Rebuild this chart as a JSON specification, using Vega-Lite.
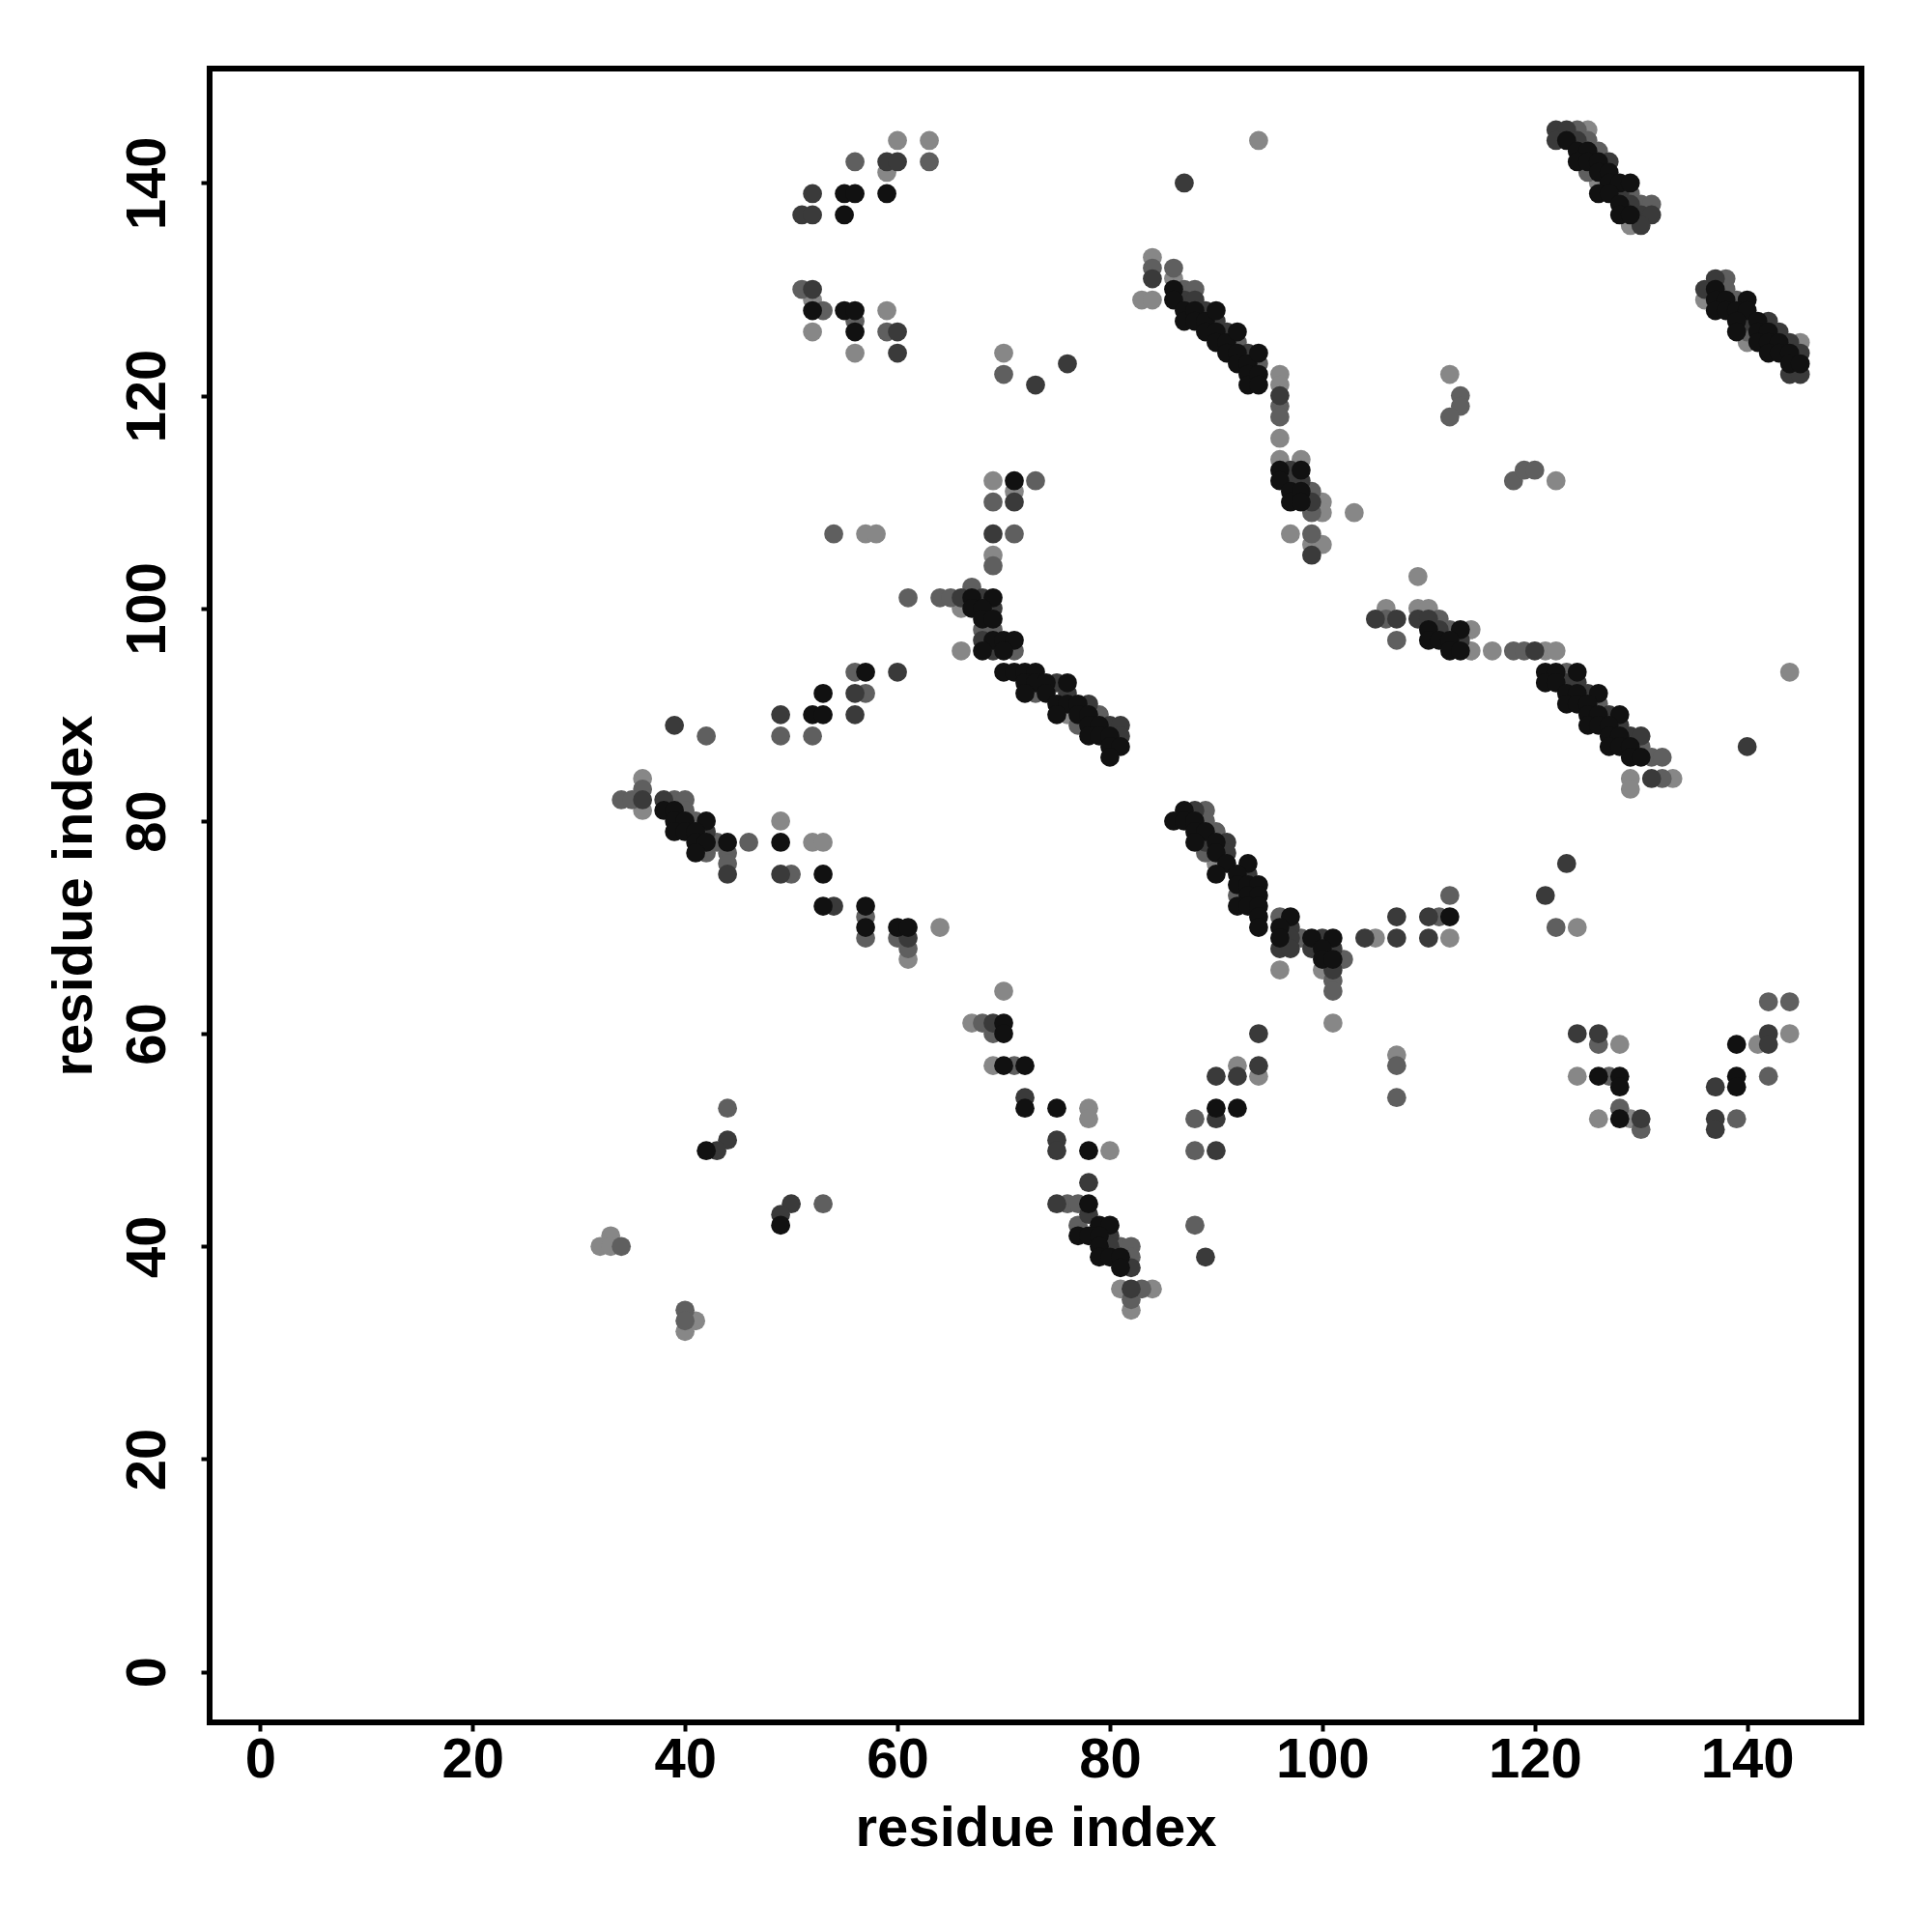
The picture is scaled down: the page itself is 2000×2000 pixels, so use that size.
{
"$schema": "https://vega.github.io/schema/vega-lite/v6.json",
"width": 1710, "height": 1712,
"autosize": "none",
"padding": {"left": 217, "top": 71, "right": 73, "bottom": 217},
"background": "white",
"config": {"view": {"stroke": "black", "strokeWidth": 6}},
"data": {"values": [
{"i":60,"j":144,"p":1},{"i":63,"j":144,"p":1},{"i":56,"j":142,"p":2},{"i":59,"j":142,"p":3},{"i":60,"j":142,"p":3},{"i":59,"j":141,"p":1},{"i":63,"j":142,"p":2},{"i":52,"j":139,"p":3},{"i":55,"j":139,"p":4},{"i":56,"j":139,"p":4},{"i":59,"j":139,"p":4},{"i":51,"j":137,"p":3},{"i":52,"j":137,"p":3},{"i":55,"j":137,"p":4},{"i":51,"j":130,"p":2},{"i":52,"j":130,"p":3},{"i":52,"j":129,"p":1},{"i":52,"j":128,"p":4},{"i":53,"j":128,"p":2},{"i":55,"j":128,"p":4},{"i":56,"j":128,"p":4},{"i":56,"j":127,"p":2},{"i":56,"j":126,"p":4},{"i":59,"j":128,"p":1},{"i":52,"j":126,"p":1},{"i":59,"j":126,"p":2},{"i":60,"j":126,"p":3},{"i":56,"j":124,"p":1},{"i":60,"j":124,"p":3},
{"i":94,"j":144,"p":1},{"i":87,"j":140,"p":3},{"i":84,"j":133,"p":1},{"i":84,"j":132,"p":2},{"i":84,"j":131,"p":3},{"i":83,"j":129,"p":1},{"i":84,"j":129,"p":1},{"i":86,"j":132,"p":2},{"i":86,"j":131,"p":1},
{"i":86,"j":130,"p":4},{"i":86,"j":129,"p":4},{"i":87,"j":130,"p":2},{"i":87,"j":129,"p":3},{"i":87,"j":128,"p":4},{"i":87,"j":127,"p":4},{"i":88,"j":130,"p":2},{"i":88,"j":129,"p":3},{"i":88,"j":128,"p":4},{"i":88,"j":127,"p":4},{"i":89,"j":128,"p":3},{"i":89,"j":127,"p":4},{"i":89,"j":126,"p":4},{"i":90,"j":128,"p":4},{"i":90,"j":127,"p":3},{"i":90,"j":126,"p":4},{"i":90,"j":125,"p":4},{"i":91,"j":126,"p":3},{"i":91,"j":125,"p":4},{"i":91,"j":124,"p":4},{"i":92,"j":126,"p":4},{"i":92,"j":125,"p":2},{"i":92,"j":124,"p":4},{"i":92,"j":123,"p":4},{"i":93,"j":124,"p":3},{"i":93,"j":123,"p":4},{"i":93,"j":122,"p":4},{"i":93,"j":121,"p":4},{"i":94,"j":124,"p":4},{"i":94,"j":123,"p":2},{"i":94,"j":122,"p":4},{"i":94,"j":121,"p":4},
{"i":96,"j":122,"p":1},{"i":96,"j":121,"p":1},{"i":96,"j":120,"p":3},{"i":96,"j":119,"p":2},{"i":96,"j":118,"p":2},{"i":96,"j":116,"p":1},{"i":96,"j":114,"p":1},{"i":96,"j":113,"p":4},{"i":96,"j":112,"p":4},{"i":97,"j":113,"p":3},{"i":97,"j":112,"p":3},{"i":97,"j":111,"p":4},{"i":97,"j":110,"p":4},{"i":98,"j":114,"p":1},{"i":98,"j":113,"p":4},{"i":98,"j":112,"p":3},{"i":98,"j":111,"p":4},{"i":98,"j":110,"p":4},{"i":99,"j":111,"p":2},{"i":99,"j":110,"p":3},{"i":99,"j":109,"p":2},{"i":100,"j":110,"p":1},{"i":100,"j":109,"p":1},{"i":103,"j":109,"p":1},
{"i":70,"j":124,"p":1},{"i":70,"j":122,"p":2},{"i":73,"j":121,"p":3},{"i":76,"j":123,"p":3},
{"i":69,"j":112,"p":1},{"i":71,"j":112,"p":4},{"i":73,"j":112,"p":2},{"i":71,"j":111,"p":1},{"i":69,"j":110,"p":2},{"i":71,"j":110,"p":3},{"i":69,"j":107,"p":3},{"i":71,"j":107,"p":2},{"i":69,"j":105,"p":1},{"i":69,"j":104,"p":2},{"i":67,"j":102,"p":2},{"i":64,"j":101,"p":2},{"i":65,"j":101,"p":2},{"i":66,"j":101,"p":3},{"i":67,"j":101,"p":4},{"i":68,"j":101,"p":3},{"i":69,"j":101,"p":4},{"i":66,"j":100,"p":1},{"i":67,"j":100,"p":4},{"i":68,"j":100,"p":4},{"i":69,"j":100,"p":3},{"i":68,"j":99,"p":4},{"i":69,"j":99,"p":4},{"i":68,"j":98,"p":2},{"i":69,"j":98,"p":2},{"i":68,"j":97,"p":3},{"i":69,"j":97,"p":4},{"i":70,"j":97,"p":4},{"i":71,"j":97,"p":4},{"i":66,"j":96,"p":1},{"i":68,"j":96,"p":4},{"i":69,"j":96,"p":3},{"i":70,"j":96,"p":4},{"i":71,"j":96,"p":2},{"i":61,"j":101,"p":2},
{"i":122,"j":145,"p":3},{"i":123,"j":145,"p":3},{"i":124,"j":145,"p":2},{"i":125,"j":145,"p":1},{"i":122,"j":144,"p":3},{"i":123,"j":144,"p":4},{"i":124,"j":144,"p":3},{"i":125,"j":144,"p":2},{"i":124,"j":143,"p":4},{"i":125,"j":143,"p":4},{"i":126,"j":143,"p":2},{"i":124,"j":142,"p":4},{"i":125,"j":142,"p":4},{"i":126,"j":142,"p":4},{"i":127,"j":142,"p":3},{"i":125,"j":141,"p":2},{"i":126,"j":141,"p":4},{"i":127,"j":141,"p":4},{"i":126,"j":140,"p":1},{"i":127,"j":140,"p":4},{"i":128,"j":140,"p":4},{"i":129,"j":140,"p":4},{"i":126,"j":139,"p":4},{"i":127,"j":139,"p":4},{"i":128,"j":139,"p":3},{"i":129,"j":139,"p":2},{"i":128,"j":138,"p":4},{"i":129,"j":138,"p":3},{"i":130,"j":138,"p":2},{"i":131,"j":138,"p":2},{"i":128,"j":137,"p":4},{"i":129,"j":137,"p":4},{"i":130,"j":137,"p":3},{"i":131,"j":137,"p":3},{"i":129,"j":136,"p":1},{"i":130,"j":136,"p":3},
{"i":137,"j":131,"p":3},{"i":138,"j":131,"p":2},{"i":136,"j":130,"p":3},{"i":137,"j":130,"p":4},{"i":138,"j":130,"p":2},{"i":136,"j":129,"p":1},{"i":137,"j":129,"p":4},{"i":138,"j":129,"p":4},{"i":139,"j":129,"p":2},{"i":140,"j":129,"p":4},{"i":137,"j":128,"p":4},{"i":138,"j":128,"p":4},{"i":139,"j":128,"p":4},{"i":140,"j":128,"p":4},{"i":139,"j":127,"p":4},{"i":140,"j":127,"p":3},{"i":141,"j":127,"p":4},{"i":142,"j":127,"p":3},{"i":139,"j":126,"p":4},{"i":140,"j":126,"p":2},{"i":141,"j":126,"p":4},{"i":142,"j":126,"p":4},{"i":143,"j":126,"p":3},{"i":140,"j":125,"p":1},{"i":141,"j":125,"p":4},{"i":142,"j":125,"p":4},{"i":143,"j":125,"p":4},{"i":144,"j":125,"p":3},{"i":145,"j":125,"p":1},{"i":142,"j":124,"p":4},{"i":143,"j":124,"p":4},{"i":144,"j":124,"p":4},{"i":145,"j":124,"p":3},{"i":144,"j":123,"p":4},{"i":145,"j":123,"p":4},{"i":144,"j":122,"p":3},{"i":145,"j":122,"p":3},
{"i":112,"j":122,"p":1},{"i":113,"j":120,"p":2},{"i":113,"j":119,"p":2},{"i":112,"j":118,"p":2},{"i":118,"j":112,"p":2},{"i":119,"j":113,"p":2},{"i":120,"j":113,"p":2},{"i":122,"j":112,"p":1},
{"i":54,"j":107,"p":2},{"i":57,"j":107,"p":1},{"i":58,"j":107,"p":1},{"i":56,"j":94,"p":2},{"i":57,"j":94,"p":4},{"i":60,"j":94,"p":3},{"i":53,"j":92,"p":4},{"i":56,"j":92,"p":3},{"i":57,"j":92,"p":2},{"i":49,"j":90,"p":3},{"i":52,"j":90,"p":4},{"i":53,"j":90,"p":4},{"i":56,"j":90,"p":3},{"i":39,"j":89,"p":3},{"i":42,"j":88,"p":2},{"i":49,"j":88,"p":2},{"i":52,"j":88,"p":2},
{"i":36,"j":84,"p":1},{"i":36,"j":83,"p":2},{"i":34,"j":82,"p":2},{"i":35,"j":82,"p":2},{"i":36,"j":82,"p":3},{"i":38,"j":82,"p":3},{"i":39,"j":82,"p":2},{"i":40,"j":82,"p":2},{"i":36,"j":81,"p":1},{"i":38,"j":81,"p":4},{"i":39,"j":81,"p":4},{"i":40,"j":81,"p":2},{"i":39,"j":80,"p":4},{"i":40,"j":80,"p":4},{"i":41,"j":80,"p":2},{"i":42,"j":80,"p":4},{"i":49,"j":80,"p":1},{"i":39,"j":79,"p":4},{"i":40,"j":79,"p":4},{"i":41,"j":79,"p":4},{"i":42,"j":79,"p":3},{"i":41,"j":78,"p":4},{"i":42,"j":78,"p":4},{"i":43,"j":78,"p":2},{"i":44,"j":78,"p":4},{"i":46,"j":78,"p":2},{"i":49,"j":78,"p":4},{"i":52,"j":78,"p":1},{"i":53,"j":78,"p":1},{"i":41,"j":77,"p":4},{"i":42,"j":77,"p":2},{"i":44,"j":77,"p":2},{"i":44,"j":76,"p":2},{"i":44,"j":75,"p":3},{"i":49,"j":75,"p":3},{"i":50,"j":75,"p":2},{"i":53,"j":75,"p":4},{"i":53,"j":72,"p":4},{"i":54,"j":72,"p":3},{"i":57,"j":72,"p":4},{"i":57,"j":71,"p":2},{"i":57,"j":70,"p":4},{"i":60,"j":70,"p":4},{"i":61,"j":70,"p":4},{"i":64,"j":70,"p":1},
{"i":57,"j":69,"p":2},{"i":60,"j":69,"p":2},{"i":61,"j":69,"p":3},{"i":61,"j":68,"p":2},{"i":61,"j":67,"p":1},{"i":67,"j":61,"p":1},{"i":68,"j":61,"p":2},{"i":44,"j":53,"p":2},{"i":44,"j":50,"p":3},{"i":42,"j":49,"p":4},{"i":43,"j":49,"p":3},{"i":50,"j":44,"p":3},{"i":49,"j":43,"p":3},{"i":49,"j":42,"p":4},{"i":53,"j":44,"p":2},{"i":32,"j":40,"p":1},{"i":33,"j":41,"p":1},{"i":33,"j":40,"p":1},{"i":34,"j":40,"p":2},{"i":40,"j":34,"p":2},{"i":40,"j":33,"p":2},{"i":40,"j":32,"p":1},{"i":41,"j":33,"p":1},
{"i":70,"j":94,"p":4},{"i":71,"j":94,"p":4},{"i":72,"j":94,"p":4},{"i":73,"j":94,"p":4},{"i":72,"j":93,"p":4},{"i":73,"j":93,"p":4},{"i":74,"j":93,"p":4},{"i":75,"j":93,"p":3},{"i":76,"j":93,"p":4},{"i":72,"j":92,"p":4},{"i":73,"j":92,"p":2},{"i":74,"j":92,"p":4},{"i":76,"j":92,"p":3},{"i":75,"j":91,"p":4},{"i":76,"j":91,"p":4},{"i":77,"j":91,"p":4},{"i":78,"j":91,"p":3},{"i":75,"j":90,"p":4},{"i":76,"j":90,"p":1},{"i":77,"j":90,"p":4},{"i":78,"j":90,"p":4},{"i":79,"j":90,"p":2},{"i":77,"j":89,"p":2},{"i":78,"j":89,"p":4},{"i":79,"j":89,"p":4},{"i":80,"j":89,"p":3},{"i":81,"j":89,"p":3},{"i":78,"j":88,"p":4},{"i":79,"j":88,"p":4},{"i":80,"j":88,"p":4},{"i":81,"j":88,"p":3},{"i":80,"j":87,"p":4},{"i":81,"j":87,"p":4},{"i":80,"j":86,"p":4},
{"i":97,"j":107,"p":1},{"i":99,"j":107,"p":2},{"i":99,"j":106,"p":1},{"i":100,"j":106,"p":1},{"i":99,"j":105,"p":3},{"i":105,"j":99,"p":3},
{"i":109,"j":103,"p":1},{"i":106,"j":100,"p":1},{"i":109,"j":100,"p":1},{"i":110,"j":100,"p":1},{"i":106,"j":99,"p":2},{"i":107,"j":99,"p":3},{"i":109,"j":99,"p":3},{"i":110,"j":99,"p":3},{"i":111,"j":99,"p":2},{"i":110,"j":98,"p":4},{"i":111,"j":98,"p":3},{"i":112,"j":98,"p":2},{"i":113,"j":98,"p":4},{"i":114,"j":98,"p":1},{"i":107,"j":97,"p":2},{"i":110,"j":97,"p":4},{"i":111,"j":97,"p":4},{"i":112,"j":97,"p":4},{"i":113,"j":97,"p":3},{"i":112,"j":96,"p":4},{"i":113,"j":96,"p":4},{"i":114,"j":96,"p":1},{"i":116,"j":96,"p":1},{"i":118,"j":96,"p":2},{"i":119,"j":96,"p":2},{"i":120,"j":96,"p":3},{"i":121,"j":96,"p":1},{"i":122,"j":96,"p":1},
{"i":121,"j":94,"p":4},{"i":122,"j":94,"p":4},{"i":123,"j":94,"p":2},{"i":124,"j":94,"p":4},{"i":121,"j":93,"p":4},{"i":122,"j":93,"p":4},{"i":123,"j":93,"p":3},{"i":124,"j":93,"p":3},{"i":123,"j":92,"p":4},{"i":124,"j":92,"p":4},{"i":125,"j":92,"p":3},{"i":126,"j":92,"p":4},{"i":123,"j":91,"p":4},{"i":124,"j":91,"p":4},{"i":125,"j":91,"p":4},{"i":126,"j":91,"p":2},{"i":125,"j":90,"p":4},{"i":126,"j":90,"p":4},{"i":127,"j":90,"p":3},{"i":128,"j":90,"p":4},{"i":125,"j":89,"p":4},{"i":126,"j":89,"p":4},{"i":127,"j":89,"p":4},{"i":128,"j":89,"p":3},{"i":127,"j":88,"p":4},{"i":128,"j":88,"p":4},{"i":129,"j":88,"p":3},{"i":130,"j":88,"p":3},{"i":127,"j":87,"p":4},{"i":128,"j":87,"p":4},{"i":129,"j":87,"p":4},{"i":130,"j":87,"p":2},{"i":129,"j":86,"p":4},{"i":130,"j":86,"p":4},{"i":131,"j":86,"p":2},{"i":132,"j":86,"p":2},{"i":129,"j":84,"p":1},{"i":131,"j":84,"p":3},{"i":132,"j":84,"p":2},{"i":133,"j":84,"p":1},{"i":129,"j":83,"p":1},
{"i":144,"j":94,"p":1},{"i":140,"j":87,"p":3},{"i":123,"j":76,"p":3},{"i":121,"j":73,"p":3},{"i":112,"j":73,"p":2},{"i":107,"j":71,"p":3},{"i":110,"j":71,"p":3},{"i":111,"j":71,"p":2},{"i":112,"j":71,"p":4},{"i":122,"j":70,"p":2},{"i":124,"j":70,"p":1},{"i":107,"j":69,"p":3},{"i":110,"j":69,"p":3},{"i":112,"j":69,"p":1},
{"i":87,"j":81,"p":4},{"i":88,"j":81,"p":3},{"i":89,"j":81,"p":2},{"i":86,"j":80,"p":4},{"i":87,"j":80,"p":4},{"i":88,"j":80,"p":4},{"i":89,"j":80,"p":2},{"i":88,"j":79,"p":4},{"i":89,"j":79,"p":4},{"i":90,"j":79,"p":2},{"i":88,"j":78,"p":4},{"i":89,"j":78,"p":3},{"i":90,"j":78,"p":4},{"i":91,"j":78,"p":3},{"i":89,"j":77,"p":2},{"i":90,"j":77,"p":4},{"i":91,"j":77,"p":3},{"i":90,"j":76,"p":1},{"i":91,"j":76,"p":4},{"i":93,"j":76,"p":4},{"i":90,"j":75,"p":4},{"i":92,"j":75,"p":4},{"i":93,"j":75,"p":3},{"i":92,"j":74,"p":4},{"i":93,"j":74,"p":4},{"i":94,"j":74,"p":4},{"i":92,"j":73,"p":2},{"i":93,"j":73,"p":4},{"i":94,"j":73,"p":4},{"i":92,"j":72,"p":4},{"i":93,"j":72,"p":4},{"i":94,"j":72,"p":4},{"i":94,"j":71,"p":4},{"i":96,"j":71,"p":2},{"i":97,"j":71,"p":4},{"i":94,"j":70,"p":4},{"i":96,"j":70,"p":4},{"i":97,"j":70,"p":3},
{"i":96,"j":69,"p":4},{"i":97,"j":69,"p":3},{"i":98,"j":69,"p":2},{"i":99,"j":69,"p":4},{"i":100,"j":69,"p":3},{"i":101,"j":69,"p":4},{"i":104,"j":69,"p":3},{"i":105,"j":69,"p":1},{"i":96,"j":68,"p":3},{"i":97,"j":68,"p":3},{"i":99,"j":68,"p":3},{"i":100,"j":68,"p":4},{"i":101,"j":68,"p":3},{"i":100,"j":67,"p":4},{"i":101,"j":67,"p":4},{"i":102,"j":67,"p":2},{"i":96,"j":66,"p":1},{"i":100,"j":66,"p":1},{"i":101,"j":66,"p":3},{"i":101,"j":65,"p":2},{"i":101,"j":64,"p":2},{"i":70,"j":64,"p":1},{"i":101,"j":61,"p":1},{"i":69,"j":61,"p":3},{"i":70,"j":61,"p":4},{"i":69,"j":60,"p":2},{"i":70,"j":60,"p":4},{"i":94,"j":60,"p":3},{"i":69,"j":57,"p":1},{"i":70,"j":57,"p":4},{"i":71,"j":57,"p":2},{"i":72,"j":57,"p":4},{"i":94,"j":57,"p":3},{"i":92,"j":57,"p":1},{"i":90,"j":56,"p":3},{"i":92,"j":56,"p":3},{"i":94,"j":56,"p":1},{"i":72,"j":54,"p":3},{"i":72,"j":53,"p":4},{"i":75,"j":53,"p":4},{"i":78,"j":53,"p":1},{"i":90,"j":53,"p":4},{"i":92,"j":53,"p":4},{"i":78,"j":52,"p":1},{"i":88,"j":52,"p":2},{"i":90,"j":52,"p":3},{"i":75,"j":50,"p":3},{"i":75,"j":49,"p":3},{"i":78,"j":49,"p":4},{"i":80,"j":49,"p":1},{"i":88,"j":49,"p":2},{"i":90,"j":49,"p":3},{"i":78,"j":46,"p":3},{"i":75,"j":44,"p":3},{"i":76,"j":44,"p":2},{"i":77,"j":44,"p":2},{"i":78,"j":44,"p":4},{"i":78,"j":43,"p":3},{"i":77,"j":42,"p":2},{"i":79,"j":42,"p":4},{"i":80,"j":42,"p":4},{"i":88,"j":42,"p":2},{"i":77,"j":41,"p":4},{"i":78,"j":41,"p":4},{"i":79,"j":41,"p":4},{"i":80,"j":41,"p":3},{"i":79,"j":40,"p":4},{"i":80,"j":40,"p":3},{"i":81,"j":40,"p":2},{"i":82,"j":40,"p":2},{"i":79,"j":39,"p":4},{"i":80,"j":39,"p":4},{"i":81,"j":39,"p":4},{"i":82,"j":39,"p":2},{"i":89,"j":39,"p":3},{"i":81,"j":38,"p":4},{"i":82,"j":38,"p":3},{"i":81,"j":36,"p":1},{"i":82,"j":36,"p":3},{"i":83,"j":36,"p":2},{"i":84,"j":36,"p":1},{"i":82,"j":35,"p":2},{"i":82,"j":34,"p":1},
{"i":107,"j":58,"p":1},{"i":107,"j":57,"p":2},{"i":107,"j":54,"p":2},{"i":124,"j":60,"p":3},{"i":126,"j":60,"p":3},{"i":126,"j":59,"p":2},{"i":128,"j":59,"p":1},{"i":124,"j":56,"p":1},{"i":126,"j":56,"p":4},{"i":127,"j":56,"p":2},{"i":128,"j":56,"p":4},{"i":128,"j":55,"p":4},{"i":128,"j":53,"p":2},{"i":126,"j":52,"p":1},{"i":128,"j":52,"p":4},{"i":129,"j":52,"p":1},{"i":130,"j":52,"p":3},{"i":130,"j":51,"p":2},{"i":137,"j":55,"p":3},{"i":137,"j":52,"p":3},{"i":137,"j":51,"p":3},{"i":139,"j":59,"p":4},{"i":139,"j":56,"p":4},{"i":139,"j":55,"p":4},{"i":139,"j":52,"p":2},{"i":141,"j":59,"p":1},{"i":142,"j":63,"p":2},{"i":142,"j":60,"p":3},{"i":142,"j":59,"p":3},{"i":142,"j":56,"p":2},{"i":144,"j":63,"p":2},{"i":144,"j":60,"p":1}
]},
"mark": {"type": "point", "filled": true, "opacity": 1, "size": 390, "strokeWidth": 0},
"encoding": {
  "x": {"field": "i", "type": "quantitative",
    "scale": {"domain": [-4.76, 150.76], "nice": false, "zero": false},
    "axis": {"values": [0,20,40,60,80,100,120,140], "domain": false, "grid": false, "tickSize": 9, "tickWidth": 4, "tickColor": "black",
      "labelFont": "Liberation Sans", "labelFontWeight": "bold", "labelFontSize": 58, "labelColor": "black", "labelPadding": 1, "labelFlush": false, "labelOverlap": false,
      "title": "residue index", "titleFont": "Liberation Sans", "titleFontWeight": "bold", "titleFontSize": 58, "titleColor": "black", "titlePadding": 13}},
  "y": {"field": "j", "type": "quantitative",
    "scale": {"domain": [-4.76, 150.76], "nice": false, "zero": false},
    "axis": {"values": [0,20,40,60,80,100,120,140], "domain": false, "grid": false, "tickSize": 9, "tickWidth": 4, "tickColor": "black",
      "labelAngle": -90, "labelAlign": "center", "labelBaseline": "bottom",
      "labelFont": "Liberation Sans", "labelFontWeight": "bold", "labelFontSize": 58, "labelColor": "black", "labelPadding": 26, "labelFlush": false, "labelOverlap": false,
      "title": "residue index", "titleFont": "Liberation Sans", "titleFontWeight": "bold", "titleFontSize": 58, "titleColor": "black", "titlePadding": 18}},
  "color": {"field": "p", "type": "ordinal", "legend": null,
    "scale": {"domain": [1,2,3,4], "range": ["#878787", "#5f5f5f", "#3a3a3a", "#111111"]}},
  "order": {"field": "p", "type": "quantitative"}
}
}
